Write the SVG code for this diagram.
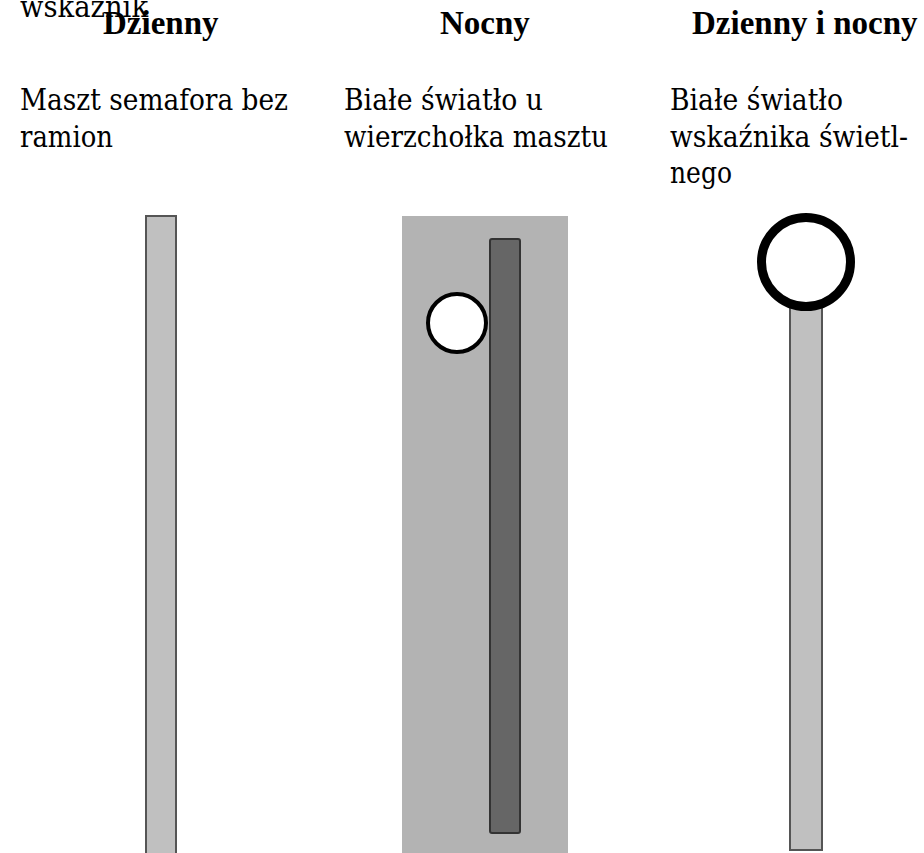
<svg xmlns="http://www.w3.org/2000/svg" width="924" height="853" viewBox="0 0 924 853">
<style>
text{font-family:"DejaVu Serif","Liberation Serif",serif;font-size:29px;fill:#000}
.h{font-family:"Liberation Serif",serif;font-weight:bold;font-size:33px}
.mast{fill:#c0c0c0;stroke:#555;stroke-width:2}
</style>
<rect width="924" height="853" fill="#fff"/>
<g id="labels">
<text x="20" y="17" textLength="128" lengthAdjust="spacingAndGlyphs">wskaźnik</text>
<text class="h" x="103" y="34">Dzienny</text>
<text class="h" x="440" y="34">Nocny</text>
<text class="h" x="692" y="34">Dzienny i nocny</text>
<text x="20" y="110" textLength="268" lengthAdjust="spacingAndGlyphs">Maszt semafora bez</text>
<text x="20" y="147" textLength="93" lengthAdjust="spacingAndGlyphs">ramion</text>
<text x="344" y="110" textLength="199" lengthAdjust="spacingAndGlyphs">Białe światło u</text>
<text x="344" y="147" textLength="264" lengthAdjust="spacingAndGlyphs">wierzchołka masztu</text>
<text x="670" y="110" textLength="173" lengthAdjust="spacingAndGlyphs">Białe światło</text>
<text x="670" y="147" textLength="238" lengthAdjust="spacingAndGlyphs">wskaźnika świetl-</text>
<text x="670" y="183" textLength="62" lengthAdjust="spacingAndGlyphs">nego</text>
</g>
<g id="day">
<rect class="mast" x="146" y="216" width="30" height="645"/>
</g>
<g id="night">
<rect x="402" y="216" width="166" height="645" fill="#b3b3b3"/>
<rect x="490" y="239" width="30" height="594" rx="2" fill="#666" stroke="#333" stroke-width="2"/>
<circle cx="457" cy="323" r="29" fill="#fff" stroke="#000" stroke-width="4"/>
</g>
<g id="daynight">
<rect class="mast" x="790" y="300" width="32" height="550"/>
<circle cx="806" cy="262" r="44.5" fill="#fff" stroke="#000" stroke-width="9"/>
</g>
</svg>
